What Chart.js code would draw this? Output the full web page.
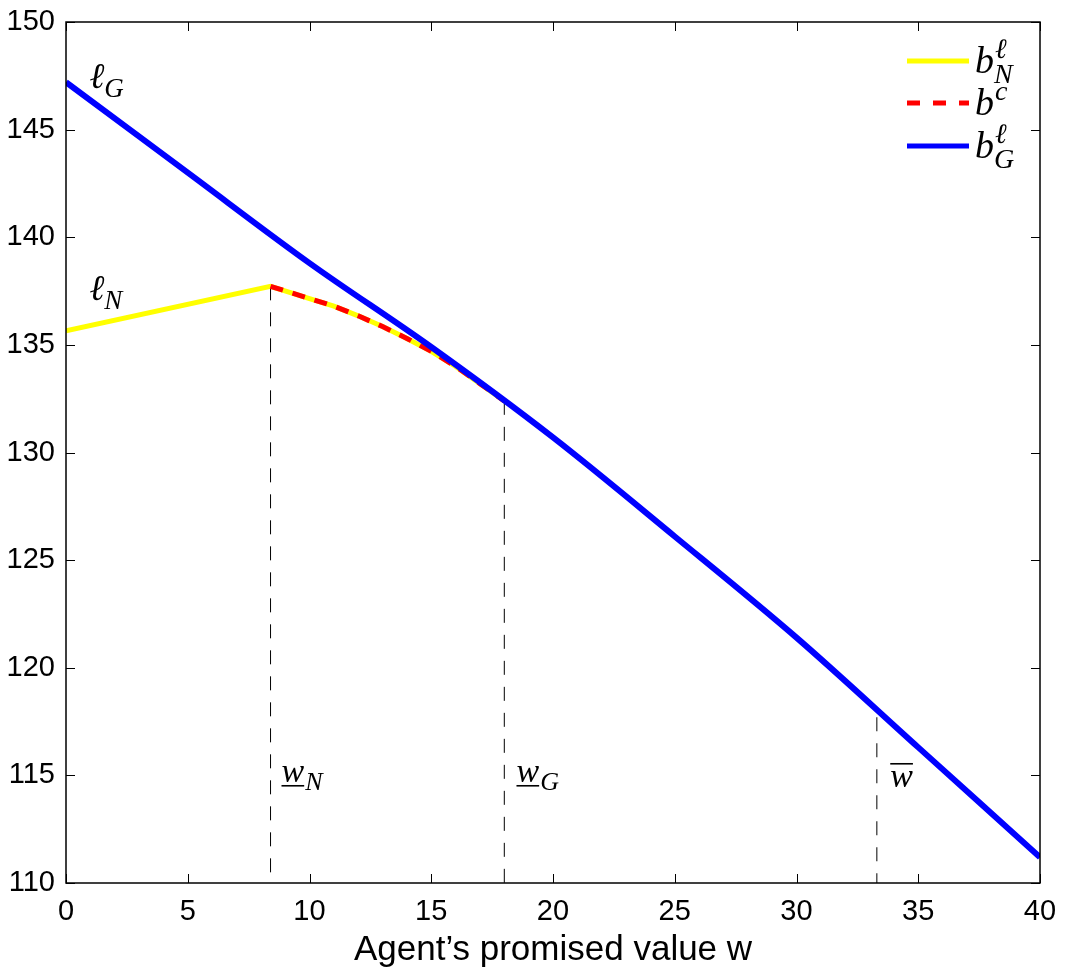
<!DOCTYPE html>
<html>
<head>
<meta charset="utf-8">
<script src="https://cdn.jsdelivr.net/npm/chart.js@4.4.1/dist/chart.umd.min.js"></script>
<style>
  html, body { margin: 0; padding: 0; background: #fff; }
  #wrap { width: 1065px; height: 978px; }
</style>
</head>
<body>
<div id="wrap"><canvas id="chart" width="1065" height="978"></canvas></div>
<script>
// b_G^l (upper envelope, blue)
const blueW = [0, 5, 10, 15, 20, 25, 30, 35, 40];
const blueV = [147.2, 143.0, 138.8, 134.9, 130.7, 126.1, 121.4, 116.3, 111.2];

// b_N^l (yellow): straight up to w_N, then concave until it joins blue at w_G
const yellowW = [0, 8.4, 10, 11, 12, 13, 14, 15, 16, 17, 18];
const yellowV = [135.65, 137.72, 137.15, 136.8, 136.35, 135.85, 135.3, 134.7, 134.0, 133.2, 132.4];

// b^c (red dashed) on the curved part
const redW = [8.4, 10, 11, 12, 13, 14, 15, 16, 17, 18];
const redV = [137.72, 137.15, 136.8, 136.35, 135.85, 135.3, 134.7, 134.0, 133.2, 132.4];

// vertical dashed markers: w_N, w_G, w-bar
const cutW = [8.4, 18, 33.3];
const cutTop = [137.72, 132.4, 117.7];

const xTicks = [0, 5, 10, 15, 20, 25, 30, 35, 40];
const yTicks = [110, 115, 120, 125, 130, 135, 140, 145, 150];

const pts = (xs, ys) => xs.map((x, i) => ({ x, y: ys[i] }));

const datasets = [
  { data: pts(blueW, blueV), borderColor: '#0000ff', borderWidth: 6, cubicInterpolationMode: 'monotone' },
  { data: pts(redW, redV), borderColor: '#ff0000', borderWidth: 5, borderDash: [13, 10] },
  { data: pts(yellowW, yellowV), borderColor: '#ffff00', borderWidth: 5 }
];
cutW.forEach((w, i) => {
  datasets.push({
    data: [{ x: w, y: cutTop[i] }, { x: w, y: 110 }],
    borderColor: '#000', borderWidth: 1, borderDash: [14, 12]
  });
});

const SERIF = '"Liberation Serif", "DejaVu Serif", serif';
const SANS = '"Liberation Sans", Arial, sans-serif';

function mathText(ctx, x, y, main, sup, sub, size) {
  ctx.font = 'italic ' + size + 'px ' + SERIF;
  ctx.fillText(main, x, y);
  const w = ctx.measureText(main).width;
  const small = Math.round(size * 0.74);
  ctx.font = 'italic ' + small + 'px ' + SERIF;
  if (sup) ctx.fillText(sup, x + w + 1, y - size * 0.4);
  if (sub) ctx.fillText(sub, x + w, y + size * 0.26);
}

const annotations = {
  id: 'annotations',
  afterDatasetsDraw(chart) {
    const { ctx, scales: { x, y } } = chart;
    ctx.save();
    ctx.fillStyle = '#000';
    ctx.textBaseline = 'alphabetic';
    // curve labels
    mathText(ctx, x.getPixelForValue(0.95), y.getPixelForValue(146.95), 'ℓ', null, 'G', 36);
    mathText(ctx, x.getPixelForValue(0.95), y.getPixelForValue(137.1), 'ℓ', null, 'N', 36);
    // threshold labels
    const base = y.getPixelForValue(114.6);
    const under = [[8.85, 'N'], [18.5, 'G']];
    under.forEach(([w, s]) => {
      const px = x.getPixelForValue(w);
      ctx.font = 'italic 34px ' + SERIF;
      ctx.fillText('w', px, base - 2);
      const ww = ctx.measureText('w').width;
      ctx.fillRect(px, base + 1, ww, 1.6);
      ctx.font = 'italic 26px ' + SERIF;
      ctx.fillText(s, px + ww + 1, base + 6);
    });
    const pb = x.getPixelForValue(33.85);
    ctx.font = 'italic 34px ' + SERIF;
    ctx.fillText('w', pb, base + 3);
    ctx.fillRect(pb, base - 21, ctx.measureText('w').width, 1.6);
    ctx.restore();
  },
  afterDraw(chart) {
    const { ctx, chartArea: a, scales: { x, y } } = chart;
    ctx.save();
    ctx.strokeStyle = '#000';
    ctx.lineWidth = 1.5;
    ctx.strokeRect(a.left, a.top, a.right - a.left, a.bottom - a.top);
    ctx.lineWidth = 1;
    ctx.beginPath();
    xTicks.forEach(v => {
      const px = Math.round(x.getPixelForValue(v)) + 0.5;
      ctx.moveTo(px, a.bottom); ctx.lineTo(px, a.bottom - 9);
      ctx.moveTo(px, a.top); ctx.lineTo(px, a.top + 9);
    });
    yTicks.forEach(v => {
      const py = Math.round(y.getPixelForValue(v)) + 0.5;
      ctx.moveTo(a.left, py); ctx.lineTo(a.left + 9, py);
      ctx.moveTo(a.right, py); ctx.lineTo(a.right - 9, py);
    });
    ctx.stroke();

    // legend
    const rows = [
      { color: '#ffff00', dash: [], sup: 'ℓ', sub: 'N', yy: 61 },
      { color: '#ff0000', dash: [13, 13], sup: 'c', sub: null, yy: 103 },
      { color: '#0000ff', dash: [], sup: 'ℓ', sub: 'G', yy: 146 }
    ];
    rows.forEach(r => {
      ctx.strokeStyle = r.color;
      ctx.lineWidth = 5;
      ctx.setLineDash(r.dash);
      ctx.beginPath();
      ctx.moveTo(907, r.yy); ctx.lineTo(969, r.yy);
      ctx.stroke();
      ctx.setLineDash([]);
      ctx.fillStyle = '#000';
      mathText(ctx, 975, r.yy + 12, 'b', r.sup, r.sub, 38);
    });
    ctx.restore();
  }
};

new Chart(document.getElementById('chart'), {
  type: 'line',
  data: { datasets },
  options: {
    responsive: false,
    animation: false,
    devicePixelRatio: 1,
    layout: { padding: { left: 0, top: 22, right: 25, bottom: 0 } },
    elements: { point: { radius: 0 }, line: { tension: 0, borderCapStyle: 'butt', fill: false } },
    plugins: { legend: { display: false }, tooltip: { enabled: false } },
    scales: {
      x: {
        type: 'linear', min: 0, max: 40,
        afterFit: s => { s.height = 95; s.paddingLeft = 0; s.paddingRight = 0; },
        afterBuildTicks: s => { s.ticks = xTicks.map(v => ({ value: v })); },
        grid: { display: false, drawTicks: false },
        border: { display: false },
        ticks: { color: '#000', padding: 12, maxRotation: 0, font: { family: SANS, size: 29 } },
        title: {
          display: true, text: 'Agent’s promised value w', color: '#000',
          font: { family: SANS, size: 35 },
          padding: { top: 0, bottom: 7 }
        }
      },
      y: {
        type: 'linear', min: 110, max: 150,
        afterFit: s => { s.width = 66; s.paddingTop = 0; s.paddingBottom = 0; },
        afterBuildTicks: s => { s.ticks = yTicks.map(v => ({ value: v })); },
        grid: { display: false, drawTicks: false },
        border: { display: false },
        ticks: { color: '#000', padding: 11, font: { family: SANS, size: 29 } }
      }
    }
  },
  plugins: [annotations]
});
</script>
</body>
</html>
